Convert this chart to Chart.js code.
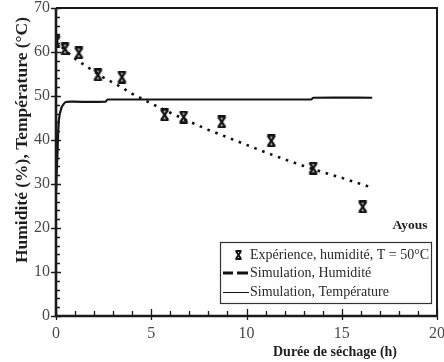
<!DOCTYPE html>
<html>

<head>
    <title>Séchage Ayous</title>
    <script src="https://cdn.jsdelivr.net/npm/chart.js"></script>
    <style>
        html, body { margin: 0; padding: 0; background: #fff; }
        #wrap { width: 444px; height: 362px; }
    </style>
</head>

<body>
    <div id="wrap"><canvas id="dryingChart" width="444" height="362"></canvas></div>

    <script>
        // Experimental humidity points (h, %)
        const expTime = [0, 0.47, 1.2, 2.2, 3.46, 5.7, 6.7, 8.7, 11.3, 13.5, 16.1];
        const expHumidity = [62.3, 60.7, 59.8, 54.8, 54.3, 45.7, 45.2, 44.1, 39.8, 33.6, 24.8];

        // Simulated humidity (h, %)
        const simTime = [0, 0.5, 1, 1.5, 2, 2.5, 3, 3.5, 4, 4.5, 5, 6, 7, 8, 9, 10, 11, 12, 13, 14, 15, 16, 16.5];
        const simHumidity = [62.5, 60.3, 58.5, 57, 55.6, 54.2, 53, 51.8, 50.5, 49.4, 48.3, 46.2, 44.2, 42.3, 40.6, 38.9, 37.2, 35.6, 34.1, 32.7, 31.4, 30.0, 29.3];

        // Simulated temperature (h, °C)
        const tempTime = [0, 0.02, 0.07, 0.15, 0.3, 0.5, 0.8, 2.6, 2.7, 13.4, 13.5, 16.6];
        const tempValues = [28, 31, 36, 44.5, 47.5, 48.6, 48.7, 48.7, 49.2, 49.2, 49.6, 49.6];

        const xTicks = [0, 5, 10, 15, 20];
        const yTicks = [0, 10, 20, 30, 40, 50, 60, 70];

        const toPoints = (xs, ys) => xs.map((x, i) => ({ x: x, y: ys[i] }));

        // X-shaped marker with small caps top and bottom
        function makeMarker(w, h, lw) {
            const c = document.createElement('canvas');
            c.width = w; c.height = h;
            const g = c.getContext('2d');
            g.strokeStyle = '#111';
            g.lineWidth = lw;
            g.lineCap = 'butt';
            g.beginPath();
            g.moveTo(1.5, lw / 2); g.lineTo(w - 1.5, lw / 2);
            g.moveTo(1.5, h - lw / 2); g.lineTo(w - 1.5, h - lw / 2);
            g.moveTo(2, lw * 0.6); g.lineTo(w - 2, h - lw * 0.6);
            g.moveTo(w - 2, lw * 0.6); g.lineTo(2, h - lw * 0.6);
            g.stroke();
            return c;
        }
        const marker = makeMarker(11, 13, 2.4);
        const legendMarker = makeMarker(9, 10, 2);

        const serif = '"Liberation Serif", "DejaVu Serif", serif';

        // axes frame, inward ticks, legend and titles
        const decorations = {
            id: 'decorations',
            afterDraw(chart) {
                const ctx = chart.ctx;
                const a = chart.chartArea;
                const xs = chart.scales.x, ys = chart.scales.y;
                ctx.save();
                ctx.strokeStyle = '#1a1a1a';

                // frame
                ctx.lineWidth = 2;
                ctx.beginPath();
                ctx.moveTo(a.left, a.top); ctx.lineTo(a.right, a.top); ctx.lineTo(a.right, a.bottom);
                ctx.stroke();
                ctx.lineWidth = 2.6;
                ctx.beginPath();
                ctx.moveTo(a.left, a.top); ctx.lineTo(a.left, a.bottom); ctx.lineTo(a.right, a.bottom);
                ctx.stroke();

                // y ticks: major every 10, minor every 2
                ctx.lineWidth = 1.3;
                ctx.beginPath();
                for (let v = 0; v <= 70; v += 2) {
                    const py = Math.round(ys.getPixelForValue(v)) + 0.5;
                    if (v % 10 === 0) { ctx.moveTo(a.left - 5, py); ctx.lineTo(a.left + 5, py); }
                    else { ctx.moveTo(a.left, py); ctx.lineTo(a.left + 4, py); }
                }
                // x ticks: major every 5, minor every 1
                for (let v = 0; v <= 20; v += 1) {
                    const px = Math.round(xs.getPixelForValue(v)) + 0.5;
                    if (v % 5 === 0) { ctx.moveTo(px, a.bottom + 4); ctx.lineTo(px, a.bottom - 7); }
                    else { ctx.moveTo(px, a.bottom); ctx.lineTo(px, a.bottom - 5); }
                }
                ctx.stroke();

                // legend box
                const lx = 220, ly = 242, lw = 211, lh = 61;
                ctx.lineWidth = 1.2;
                ctx.strokeStyle = '#333';
                ctx.strokeRect(lx + 0.5, ly + 0.5, lw, lh);

                ctx.fillStyle = '#2a2a2a';
                ctx.font = '14px ' + serif;
                ctx.textBaseline = 'middle';
                ctx.textAlign = 'left';
                const rows = chart.data.datasets.map(d => d.label);
                const rowY = [255, 273, 292];
                rows.forEach((t, i) => ctx.fillText(t, 250, rowY[i]));

                ctx.drawImage(legendMarker, 234, rowY[0] - 5);
                ctx.strokeStyle = '#111';
                ctx.lineWidth = 3;
                ctx.beginPath();
                ctx.moveTo(223, rowY[1]); ctx.lineTo(233, rowY[1]);
                ctx.moveTo(237, rowY[1]); ctx.lineTo(248, rowY[1]);
                ctx.stroke();
                ctx.lineWidth = 1;
                ctx.beginPath();
                ctx.moveTo(223, rowY[2] + 0.5); ctx.lineTo(249, rowY[2] + 0.5);
                ctx.stroke();

                // titles
                ctx.fillStyle = '#1e1e1e';
                ctx.font = 'bold 13.5px ' + serif;
                ctx.textAlign = 'center';
                ctx.fillText('Ayous', 410, 226);
                ctx.font = 'bold 14px ' + serif;
                ctx.fillText('Durée de séchage (h)', 335, 352);

                ctx.translate(22, 140);
                ctx.rotate(-Math.PI / 2);
                ctx.font = 'bold 17.5px ' + serif;
                ctx.fillText('Humidité (%), Température (°C)', 0, 0);
                ctx.restore();
            }
        };

        // keep the plot box fixed regardless of tick label overhang
        const noPad = s => { s.paddingTop = 0; s.paddingBottom = 0; s.paddingLeft = 0; s.paddingRight = 0; };

        const ctx = document.getElementById('dryingChart').getContext('2d');
        const chart = new Chart(ctx, {
            type: 'scatter',
            data: {
                datasets: [{
                    label: 'Expérience, humidité, T = 50°C',
                    data: toPoints(expTime, expHumidity),
                    pointStyle: marker,
                    pointRadius: 6,
                    showLine: false,
                    order: 0
                }, {
                    label: 'Simulation, Humidité',
                    data: toPoints(simTime, simHumidity),
                    showLine: true,
                    borderColor: '#111',
                    borderWidth: 2.6,
                    borderDash: [2.6, 5.8],
                    borderCapStyle: 'butt',
                    pointRadius: 0,
                    tension: 0,
                    order: 1
                }, {
                    label: 'Simulation, Température',
                    data: toPoints(tempTime, tempValues),
                    showLine: true,
                    borderColor: '#151515',
                    borderWidth: 2.2,
                    pointRadius: 0,
                    tension: 0.2,
                    order: 2
                }]
            },
            options: {
                responsive: false,
                animation: false,
                layout: { padding: { top: 8, right: 7, left: 0, bottom: 0 } },
                plugins: {
                    legend: { display: false },
                    tooltip: { enabled: false }
                },
                scales: {
                    x: {
                        type: 'linear',
                        min: 0,
                        max: 20,
                        afterBuildTicks: s => { s.ticks = xTicks.map(v => ({ value: v })); },
                        afterFit: s => { s.height = 46; noPad(s); },
                        grid: { display: false, drawTicks: false },
                        border: { display: false },
                        ticks: {
                            padding: 8,
                            color: '#4a4a4a',
                            font: { family: serif, size: 16 },
                            maxRotation: 0
                        }
                    },
                    y: {
                        type: 'linear',
                        min: 0,
                        max: 70,
                        afterBuildTicks: s => { s.ticks = yTicks.map(v => ({ value: v })); },
                        afterFit: s => { s.width = 56; noPad(s); },
                        grid: { display: false, drawTicks: false },
                        border: { display: false },
                        ticks: {
                            padding: 6,
                            color: '#4a4a4a',
                            font: { family: serif, size: 16 }
                        }
                    }
                }
            },
            plugins: [decorations]
        });
    </script>
</body>

</html>
